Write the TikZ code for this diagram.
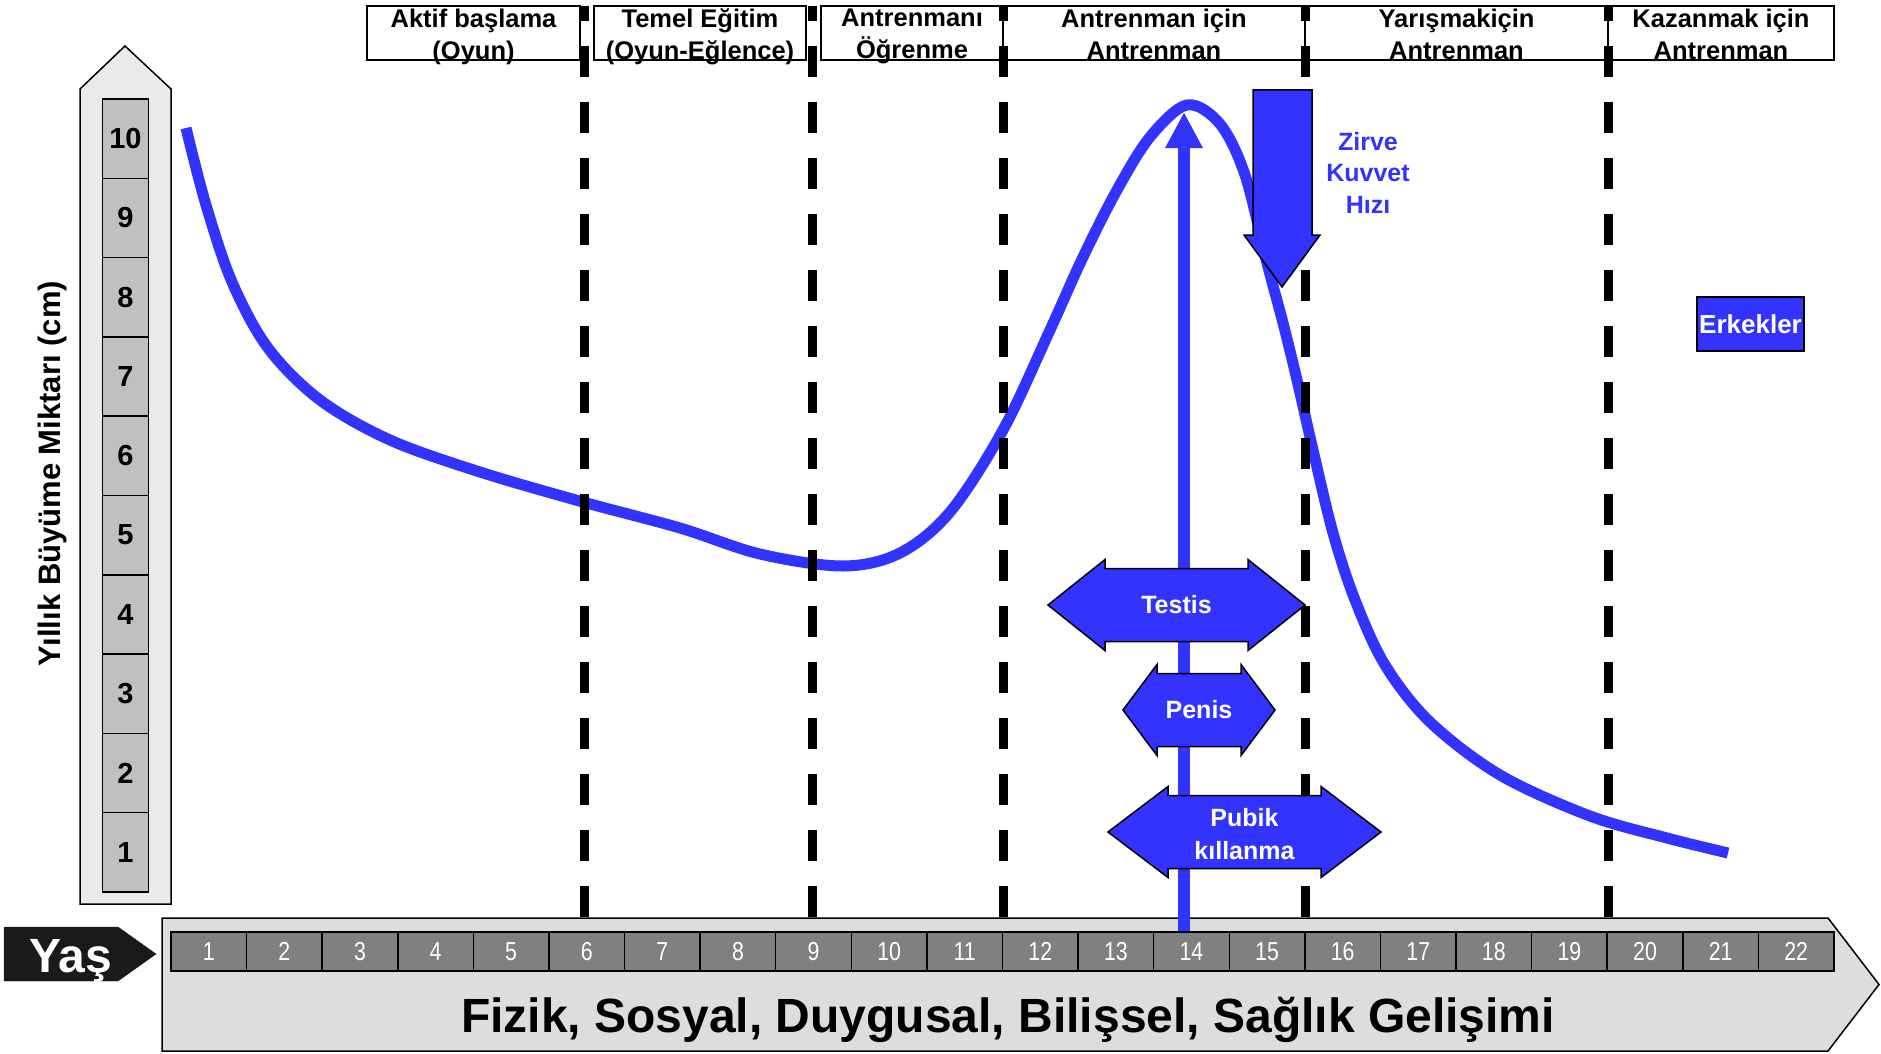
\documentclass[tikz,border=0pt]{standalone}
\usepackage{fontspec}
\setmainfont{Liberation Sans}
\newfontfamily\narrowfont[FakeStretch=0.82]{Liberation Sans}
\usetikzlibrary{arrows.meta}

\definecolor{growthblue}{RGB}{51,51,255}
\definecolor{axisgray}{RGB}{234,234,234}
\definecolor{boxgray}{RGB}{192,192,192}
\definecolor{bargray}{RGB}{221,221,221}
\definecolor{cellgray}{RGB}{128,128,128}
\definecolor{yasblack}{RGB}{26,26,26}

% double headed organ arrow: left tip, left shoulder, right shoulder, right tip, y
\newcommand{\dblarrow}[5]{%
  \filldraw[organ] (#1,#5) -- (#2,#5-45.5) -- (#2,#5-36.5) -- (#3,#5-36.5) -- (#3,#5-45.5)
    -- (#4,#5) -- (#3,#5+45.5) -- (#3,#5+36.5) -- (#2,#5+36.5) -- (#2,#5+45.5) -- cycle;}

\begin{document}
\begin{tikzpicture}[x=1pt, y=-1pt,
  phasebox/.style={draw, line width=1.8pt, minimum height=54pt, inner sep=0pt},
  phasetext/.style={anchor=north, align=center, inner sep=0pt, font=\bfseries\fontsize{25.5}{32}\selectfont},
  phaseline/.style={line width=9pt, dash pattern=on 31pt off 25pt, dash phase=16pt},
  growth/.style={draw=growthblue, line width=11pt},
  ybox/.style={draw, line width=1.5pt, fill=boxgray, minimum width=46pt, minimum height=79.3pt, inner sep=0pt, font=\bfseries\fontsize{29}{34}\selectfont},
  agecell/.style={draw, line width=1.5pt, fill=cellgray, minimum width=75.59pt, minimum height=39pt, inner sep=0pt, text=white, font=\narrowfont\fontsize{26}{30}\selectfont},
  organ/.style={fill=growthblue, draw=black, line width=1.5pt},
  organtext/.style={align=center, inner sep=0pt, text=white, font=\bfseries\fontsize{25}{33}\selectfont}]
  \useasboundingbox (0,0) rectangle (1881,1054);

  % training phases
  \node[phasebox, minimum width=213pt] (ph1) at (473.5,33) {};
  \node[phasebox, minimum width=212pt] (ph2) at (700,33) {};
  \node[phasebox, minimum width=182pt] (ph3) at (912,33) {};
  \node[phasebox, minimum width=302pt] (ph4) at (1154,33) {};
  \node[phasebox, minimum width=303pt] (ph5) at (1456.5,33) {};
  \node[phasebox, minimum width=226pt] (ph6) at (1721,33) {};
  \node[phasetext] (pt1) at (473.5,9) {Aktif başlama\\(Oyun)};
  \node[phasetext] (pt2) at (700,9) {Temel Eğitim\\(Oyun-Eğlence)};
  \node[phasetext] (pt3) at (912,9) {Antrenmanı\\Öğrenme};
  \node[phasetext] (pt4) at (1154,9) {Antrenman için\\Antrenman};
  \node[phasetext] (pt5) at (1456.5,9) {Yarışmakiçin\\Antrenman};
  \node[phasetext] (pt6) at (1721,9) {Kazanmak için\\Antrenman};

  % growth curve
  \draw[growth] plot[smooth, tension=0.55] coordinates {(186,128) (206,205) (232,282)
    (268,348) (320,400) (390,440) (480,472) (583,502) (680,528) (760,554)
    (843,566) (900,553) (950,512) (1003,430) (1050,330) (1083,257)
    (1117,190) (1150,137) (1187,105) (1220,124) (1245,175) (1267,263) (1283,323)
    (1297,380) (1313,450) (1333,533) (1355,600) (1385,665) (1430,722) (1500,775)
    (1590,816) (1667,838) (1728,853)};

  \foreach \x in {584,812,1003,1305,1608}
    \draw[phaseline] (\x,6) -- (\x,918);

  % vertical axis
  \filldraw[fill=axisgray, draw=black, line width=1.5pt] (80,904) -- (80,89) -- (125,46) -- (171,89) -- (171,904) -- cycle;
  \foreach \k in {1,...,10}
    \node[ybox] (y\k) at (125.5,{892-(\k-0.5)*79.3}) {\k};
  \node[rotate=90, font=\bfseries\fontsize{31}{36}\selectfont] (ylabel) at (52,474) {Yıllık Büyüme Miktarı (cm)};

  % age bar
  \filldraw[fill=bargray, draw=black, line width=1.5pt] (162,918) -- (1828,918) -- (1879,984.5) -- (1828,1051) -- (162,1051) -- cycle;
  \filldraw[fill=yasblack, draw=yasblack] (4,927) -- (118,927) -- (156,954) -- (118,981) -- (4,981) -- cycle;
  \node[anchor=base, text=white, font=\bfseries\fontsize{48}{56}\selectfont] (yas) at (71,972) {Yaş};

  \coordinate (pubertybase) at (1184,932);
  \coordinate (peak) at (1184,112);
  \draw[draw=growthblue, line width=12pt, -{Triangle[width=35pt,length=36pt]}] (pubertybase) -- (peak);

  \foreach \a in {1,...,22}
    \node[agecell] (a\a) at ({171+(\a-0.5)*75.59},951.5) {\a};
  \node[anchor=base, font=\bfseries\fontsize{48}{56}\selectfont] (devel) at (1008,1032) {Fizik, Sosyal, Duygusal, Bilişsel, Sağlık Gelişimi};

  % peak strength velocity
  \filldraw[organ] (1253,90) -- (1312,90) -- (1312,235) -- (1320,235) -- (1282,287) -- (1244,235) -- (1253,235) -- cycle;
  \node[anchor=north, align=center, inner sep=0pt, text=growthblue, font=\bfseries\fontsize{25}{31.5}\selectfont] (zirve) at (1368,132) {Zirve\\Kuvvet\\Hızı};

  \node[organ, minimum width=107pt, minimum height=54pt, inner sep=0pt, text=white, font=\bfseries\fontsize{26}{30}\selectfont] (erkek) at (1750.5,324) {Erkekler};

  % maturation arrows
  \dblarrow{1048}{1105}{1248}{1305}{605}
  \node[organtext] (testis) at (1176.5,605) {Testis};
  \dblarrow{1123}{1157}{1241}{1275}{710}
  \node[organtext] (penis) at (1199,710) {Penis};
  \dblarrow{1108}{1168}{1321}{1381}{832}
  \node[organtext, anchor=north] (pubik) at (1244.5,808) {Pubik\\kıllanma};
\end{tikzpicture}
\end{document}
